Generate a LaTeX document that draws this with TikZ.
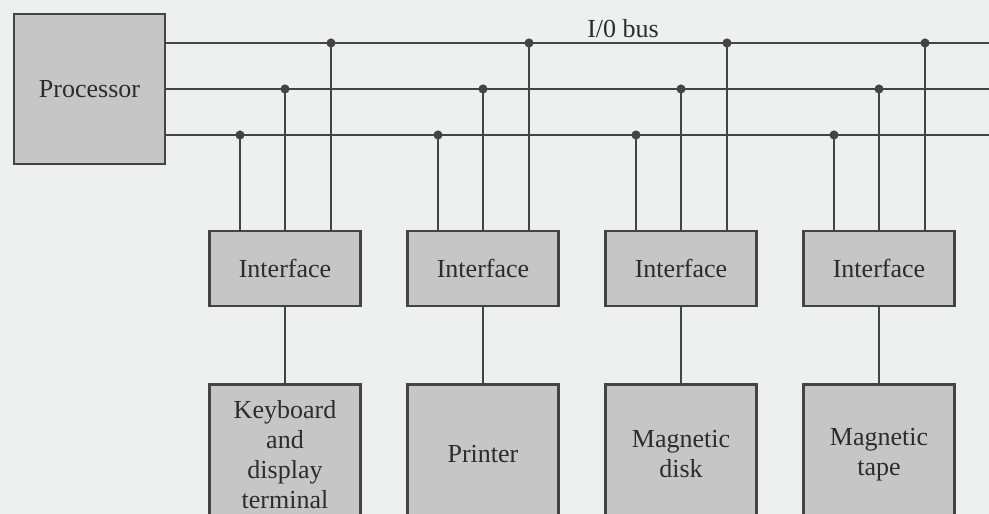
\documentclass[tikz,border=0pt]{standalone}
\usepackage{fontspec}
\setmainfont{Liberation Serif}
\usetikzlibrary{positioning}
\definecolor{paper}{HTML}{EEEFEF}
\definecolor{boxgray}{HTML}{C6C6C6}
\definecolor{ink}{HTML}{444444}

\begin{document}
\begin{tikzpicture}[
  x=1pt, y=-1pt,
  every node/.style={font=\fontsize{26}{30}\selectfont, text=ink!65!black},
  box/.style  = {draw=ink, line width=2.4pt, fill=boxgray, align=center, inner sep=0pt},
  ifc/.style  = {box, minimum width=151pt, minimum height=75pt},
  dev/.style  = {box, minimum width=151pt, minimum height=140pt},
  bus/.style  = {ink, line width=2.2pt},
  wire/.style = {ink, line width=1.8pt},
  tap/.style  = {wire, fill=ink},
]
  \useasboundingbox (0,0) rectangle (989,514);
  \clip (0,0) rectangle (989,514);
  \fill[paper] (0,0) rectangle (989,514);

  \node[box, minimum width=151pt, minimum height=150pt] (proc) at (89.5,89) {Processor};
  \node[inner sep=0pt] (buslbl) at (623,28.5) {I/0 bus};

  \coordinate (busA) at (989,43);
  \coordinate (busB) at (989,89);
  \coordinate (busC) at (989,135);
  \draw[bus] (proc.east |- busA) -- (busA);
  \draw[bus] (proc.east |- busB) -- (busB);
  \draw[bus] (proc.east |- busC) -- (busC);

  \node[ifc]                     (ifc1) at (285,268.5) {Interface};
  \node[ifc, right=44.6pt of ifc1] (ifc2) {Interface};
  \node[ifc, right=44.6pt of ifc2] (ifc3) {Interface};
  \node[ifc, right=44.6pt of ifc3] (ifc4) {Interface};

  \node[dev, below=76pt of ifc1] (kbd)  {Keyboard\\and\\display\\terminal};
  \node[dev, below=76pt of ifc2] (prn)  {Printer};
  \node[dev, below=76pt of ifc3] (disk) {Magnetic\\disk};
  \node[dev, below=76pt of ifc4] (tape) {Magnetic\\tape};

  \draw[wire] (ifc1) -- (kbd);
  \draw[wire] (ifc2) -- (prn);
  \draw[wire] (ifc3) -- (disk);
  \draw[wire] (ifc4) -- (tape);

  \filldraw[tap] ([xshift=-45pt]ifc1.north) -- ([xshift=-45pt]ifc1.north |- busC) circle[radius=3.6pt];
  \filldraw[tap] (ifc1.north) -- (ifc1.north |- busB) circle[radius=3.6pt];
  \filldraw[tap] ([xshift=46pt]ifc1.north) -- ([xshift=46pt]ifc1.north |- busA) circle[radius=3.6pt];
  \filldraw[tap] ([xshift=-45pt]ifc2.north) -- ([xshift=-45pt]ifc2.north |- busC) circle[radius=3.6pt];
  \filldraw[tap] (ifc2.north) -- (ifc2.north |- busB) circle[radius=3.6pt];
  \filldraw[tap] ([xshift=46pt]ifc2.north) -- ([xshift=46pt]ifc2.north |- busA) circle[radius=3.6pt];
  \filldraw[tap] ([xshift=-45pt]ifc3.north) -- ([xshift=-45pt]ifc3.north |- busC) circle[radius=3.6pt];
  \filldraw[tap] (ifc3.north) -- (ifc3.north |- busB) circle[radius=3.6pt];
  \filldraw[tap] ([xshift=46pt]ifc3.north) -- ([xshift=46pt]ifc3.north |- busA) circle[radius=3.6pt];
  \filldraw[tap] ([xshift=-45pt]ifc4.north) -- ([xshift=-45pt]ifc4.north |- busC) circle[radius=3.6pt];
  \filldraw[tap] (ifc4.north) -- (ifc4.north |- busB) circle[radius=3.6pt];
  \filldraw[tap] ([xshift=46pt]ifc4.north) -- ([xshift=46pt]ifc4.north |- busA) circle[radius=3.6pt];
\end{tikzpicture}
\end{document}
